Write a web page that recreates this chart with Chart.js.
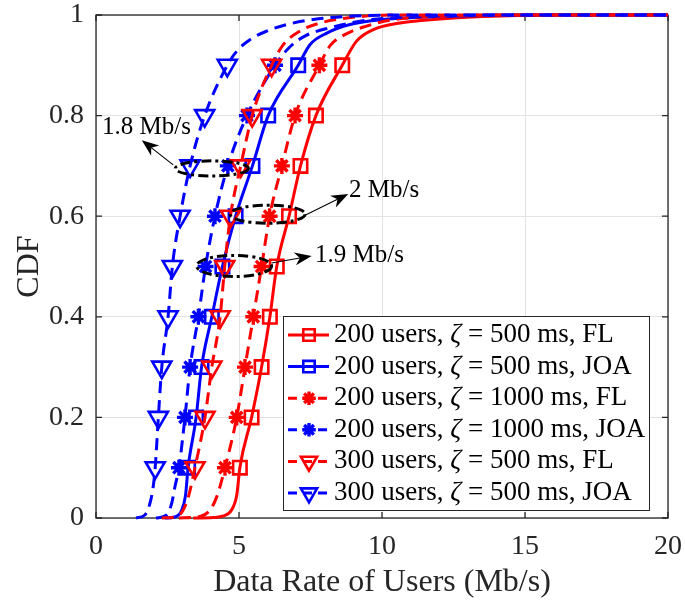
<!DOCTYPE html>
<html>
<head>
<meta charset="utf-8">
<script src="https://cdn.jsdelivr.net/npm/chart.js@4.4.0/dist/chart.umd.min.js"></script>
<style>
  html, body { margin: 0; padding: 0; background: #ffffff; }
  canvas { display: block; }
</style>
</head>
<body>
<canvas id="cdf" width="685" height="606" style="width:685px;height:606px"></canvas>
<script>
// CDF levels carrying a marker
const markerLevels = [0.1, 0.2, 0.3, 0.4, 0.5, 0.6, 0.7, 0.8, 0.9];

// Data rate (Mb/s) of each curve at the marker levels
const rateFL500   = [5.03, 5.44, 5.79, 6.08, 6.32, 6.75, 7.15, 7.69, 8.61];
const rateJOA500  = [3.22, 3.50, 3.69, 4.05, 4.42, 4.88, 5.47, 6.02, 7.07];
const rateFL1000  = [4.51, 4.92, 5.21, 5.50, 5.79, 6.07, 6.50, 6.96, 7.81];
const rateJOA1000 = [2.90, 3.11, 3.29, 3.58, 3.83, 4.16, 4.61, 5.28, 6.26];
const rateFL300   = [3.46, 3.81, 4.05, 4.34, 4.50, 4.70, 5.06, 5.46, 6.14];
const rateJOA300  = [2.07, 2.18, 2.30, 2.52, 2.67, 2.94, 3.29, 3.80, 4.59];

// Lower tails: [rate, CDF] below the first marker
const lowFL500   = [[3.4, 0], [4.1, 0.001], [4.45, 0.004], [4.74, 0.016], [4.92, 0.045]];
const lowJOA500  = [[2.4, 0], [2.76, 0.002], [3.0, 0.016], [3.13, 0.045]];
const lowFL1000  = [[2.9, 0], [3.64, 0.003], [3.99, 0.016], [4.22, 0.042]];
const lowJOA1000 = [[2.1, 0], [2.47, 0.006], [2.65, 0.03], [2.76, 0.062]];
const lowFL300   = [[2.3, 0], [2.82, 0.003], [3.05, 0.016], [3.23, 0.042]];
const lowJOA300  = [[1.4, 0], [1.71, 0.006], [1.89, 0.03], [2.0, 0.062]];

// Upper tails: [rate, CDF] above the last marker
const highFL500   = [[9.11, 0.948], [9.70, 0.971], [10.63, 0.984], [11.79, 0.991], [13.5, 0.997], [16, 1], [20, 1]];
const highJOA500  = [[7.48, 0.941], [8.07, 0.964], [8.88, 0.981], [10.05, 0.991], [12, 0.997], [15, 1], [20, 1]];
const highFL1000  = [[8.2, 0.94], [8.7, 0.961], [9.4, 0.977], [10.3, 0.99], [12, 0.997], [15, 1], [20, 1]];
const highJOA1000 = [[6.75, 0.935], [7.3, 0.958], [8.2, 0.975], [9.5, 0.99], [11.5, 0.997], [14, 1], [20, 1]];
const highFL300   = [[6.55, 0.941], [7.13, 0.968], [7.83, 0.984], [8.77, 0.994], [10.5, 1], [20, 1]];
const highJOA300  = [[4.92, 0.928], [5.38, 0.951], [5.97, 0.968], [6.67, 0.981], [7.60, 0.991], [9, 0.998], [11, 1], [20, 1]];

// Legend entries
const seriesLabels = [
  ['200 users, ', '\u03B6', ' = 500 ms, FL'],
  ['200 users, ', '\u03B6', ' = 500 ms, JOA'],
  ['200 users, ', '\u03B6', ' = 1000 ms, FL'],
  ['200 users, ', '\u03B6', ' = 1000 ms, JOA'],
  ['300 users, ', '\u03B6', ' = 500 ms, FL'],
  ['300 users, ', '\u03B6', ' = 500 ms, JOA']
];

// Axis ticks
const xTicks = [0, 5, 10, 15, 20];
const yTicks = [0, 0.2, 0.4, 0.6, 0.8, 1];

// Gap labels pointing at the circled marker groups
const gapLabels = ['1.8 Mb/s', '2 Mb/s', '1.9 Mb/s'];

const RED = '#ff0000';
const BLUE = '#0000ff';
const SERIF = '"Liberation Serif", "Times New Roman", serif';
const DASH = [12, 7];

const styles = [
  { color: RED,  dash: [],   marker: 'rect',     radius: 9.5, rotation: 0,   mw: 2.6 },
  { color: BLUE, dash: [],   marker: 'rect',     radius: 9.5, rotation: 0,   mw: 2.6 },
  { color: RED,  dash: DASH, marker: 'star',     radius: 8,   rotation: 0,   mw: 3.4 },
  { color: BLUE, dash: DASH, marker: 'star',     radius: 8,   rotation: 0,   mw: 3.4 },
  { color: RED,  dash: DASH, marker: 'triangle', radius: 11,  rotation: 180, mw: 2.6 },
  { color: BLUE, dash: DASH, marker: 'triangle', radius: 11,  rotation: 180, mw: 2.6 }
];

const rates = [rateFL500, rateJOA500, rateFL1000, rateJOA1000, rateFL300, rateJOA300];
const lows  = [lowFL500, lowJOA500, lowFL1000, lowJOA1000, lowFL300, lowJOA300];
const highs = [highFL500, highJOA500, highFL1000, highJOA1000, highFL300, highJOA300];

const toPt = p => ({ x: p[0], y: p[1] });

const datasets = [];
rates.forEach((r, i) => {
  const st = styles[i];
  const marks = markerLevels.map((lv, k) => ({ x: r[k], y: lv }));
  const curve = lows[i].map(toPt).concat(marks, highs[i].map(toPt));
  const order = (6 - i) * 2;
  datasets.push({
    type: 'line',
    data: curve,
    borderColor: st.color,
    borderWidth: 3,
    borderDash: st.dash,
    borderCapStyle: 'butt',
    cubicInterpolationMode: 'monotone',
    pointRadius: 0,
    fill: false,
    clip: false,
    order: order + 1
  });
  datasets.push({
    type: 'scatter',
    data: marks,
    showLine: false,
    pointStyle: st.marker,
    pointRadius: st.radius,
    pointRotation: st.rotation,
    pointBorderWidth: st.mw,
    pointBorderColor: st.color,
    pointBackgroundColor: 'rgba(0,0,0,0)',
    clip: false,
    order: order
  });
});

// Annotation geometry in data units
const ellipses = [
  { cx: 4.05, cy: 0.695, rx: 1.28, ry: 0.015 },
  { cx: 6.00, cy: 0.604, rx: 1.31, ry: 0.018 },
  { cx: 4.83, cy: 0.501, rx: 1.31, ry: 0.021 }
];
const arrows = [
  { x0: 2.70, y0: 0.702, x1: 1.60, y1: 0.751, tx: 0.21, ty: 0.777 },
  { x0: 7.31, y0: 0.602, x1: 8.82, y1: 0.644, tx: 8.85, ty: 0.651 },
  { x0: 6.14, y0: 0.507, x1: 7.54, y1: 0.521, tx: 7.66, ty: 0.521 }
];

function markerPath(ctx, style, x, y, r) {
  ctx.beginPath();
  if (style === 'rect') {
    const s = Math.SQRT1_2 * r;
    ctx.rect(x - s, y - s, 2 * s, 2 * s);
  } else if (style === 'star') {
    for (let a = 0; a < 4; a++) {
      const ang = a * Math.PI / 4;
      const dx = Math.cos(ang) * r, dy = Math.sin(ang) * r;
      ctx.moveTo(x - dx, y - dy);
      ctx.lineTo(x + dx, y + dy);
    }
  } else {
    // downward triangle
    ctx.moveTo(x, y + r);
    ctx.lineTo(x - 0.866 * r, y - 0.5 * r);
    ctx.lineTo(x + 0.866 * r, y - 0.5 * r);
    ctx.closePath();
  }
  ctx.stroke();
}

const framePlugin = {
  id: 'axesFrame',
  beforeDatasetsDraw(chart) {
    const { ctx, chartArea: a, scales } = chart;
    ctx.save();
    ctx.strokeStyle = '#262626';
    ctx.lineWidth = 1.3;
    ctx.strokeRect(a.left, a.top, a.right - a.left, a.bottom - a.top);
    const tl = 6;
    ctx.beginPath();
    xTicks.forEach(v => {
      const px = scales.x.getPixelForValue(v);
      ctx.moveTo(px, a.bottom); ctx.lineTo(px, a.bottom - tl);
      ctx.moveTo(px, a.top); ctx.lineTo(px, a.top + tl);
    });
    yTicks.forEach(v => {
      const py = scales.y.getPixelForValue(v);
      ctx.moveTo(a.left, py); ctx.lineTo(a.left + tl, py);
      ctx.moveTo(a.right, py); ctx.lineTo(a.right - tl, py);
    });
    ctx.stroke();
    ctx.restore();
  }
};

const notePlugin = {
  id: 'gapNotes',
  afterDatasetsDraw(chart) {
    const { ctx, scales } = chart;
    const X = v => scales.x.getPixelForValue(v);
    const Y = v => scales.y.getPixelForValue(v);
    ctx.save();
    // dash-dot ellipses
    ctx.strokeStyle = '#000000';
    ctx.lineWidth = 3;
    ctx.setLineDash([10, 4, 3, 4]);
    ellipses.forEach(e => {
      const cx = X(e.cx), cy = Y(e.cy);
      const rx = X(e.cx + e.rx) - cx, ry = cy - Y(e.cy + e.ry);
      ctx.beginPath();
      ctx.ellipse(cx, cy, rx, ry, 0, 0, Math.PI * 2);
      ctx.stroke();
    });
    ctx.setLineDash([]);
    // arrows and their labels
    ctx.fillStyle = '#000000';
    ctx.lineWidth = 1.1;
    ctx.font = '25px ' + SERIF;
    ctx.textBaseline = 'middle';
    ctx.textAlign = 'left';
    arrows.forEach((ar, i) => {
      const x0 = X(ar.x0), y0 = Y(ar.y0), x1 = X(ar.x1), y1 = Y(ar.y1);
      const ang = Math.atan2(y1 - y0, x1 - x0);
      const L = 17, W = 6.5, N = 12;
      const c = Math.cos(ang), s = Math.sin(ang);
      ctx.beginPath();
      ctx.moveTo(x0, y0);
      ctx.lineTo(x1 - c * N, y1 - s * N);
      ctx.stroke();
      ctx.beginPath();
      ctx.moveTo(x1, y1);
      ctx.lineTo(x1 - c * L - s * W, y1 - s * L + c * W);
      ctx.lineTo(x1 - c * N, y1 - s * N);
      ctx.lineTo(x1 - c * L + s * W, y1 - s * L - c * W);
      ctx.closePath();
      ctx.fill();
      ctx.fillText(gapLabels[i], X(ar.tx), Y(ar.ty));
    });
    ctx.restore();
  }
};

const legendPlugin = {
  id: 'insetLegend',
  afterDraw(chart) {
    const { ctx, chartArea: a } = chart;
    const w = 366, h = 194;
    const left = a.right - 19 - w, top = a.bottom - 8 - h;
    ctx.save();
    ctx.fillStyle = '#ffffff';
    ctx.fillRect(left, top, w, h);
    ctx.strokeStyle = '#262626';
    ctx.lineWidth = 1;
    ctx.strokeRect(left + 0.5, top + 0.5, w, h);
    const rowH = 31.6;
    seriesLabels.forEach((parts, i) => {
      const st = styles[i];
      const y = top + 19 + i * rowH;
      ctx.strokeStyle = st.color;
      ctx.lineWidth = 3;
      ctx.setLineDash(st.dash.length ? [9, 6] : []);
      ctx.beginPath();
      ctx.moveTo(left + 5, y);
      ctx.lineTo(left + 46, y);
      ctx.stroke();
      ctx.setLineDash([]);
      ctx.lineWidth = st.mw;
      markerPath(ctx, st.marker, left + 26, y, st.radius * 0.85);
      ctx.fillStyle = '#000000';
      ctx.textBaseline = 'middle';
      ctx.textAlign = 'left';
      let tx = left + 51;
      parts.forEach((p, k) => {
        ctx.font = (k === 1 ? 'italic ' : '') + '27px ' + SERIF;
        ctx.fillText(p, tx, y);
        tx += ctx.measureText(p).width;
      });
    });
    ctx.restore();
  }
};

new Chart(document.getElementById('cdf'), {
  type: 'scatter',
  data: { datasets },
  options: {
    responsive: false,
    animation: false,
    devicePixelRatio: 1,
    layout: { padding: { left: 0, right: 17, top: 15, bottom: 0 } },
    scales: {
      x: {
        type: 'linear',
        min: 0, max: 20,
        afterBuildTicks: s => { s.ticks = xTicks.map(v => ({ value: v })); },
        afterFit: s => { s.height = 88; s.paddingLeft = 0; s.paddingRight = 0; },
        ticks: { color: '#262626', font: { family: SERIF, size: 28 }, padding: 12, maxRotation: 0,
                 callback: v => String(v) },
        grid: { color: '#e3e3e3', lineWidth: 1, drawTicks: false },
        border: { display: false },
        title: { display: true, text: 'Data Rate of Users (Mb/s)', color: '#262626',
                 font: { family: SERIF, size: 32 }, padding: { top: 0, bottom: 4 } }
      },
      y: {
        type: 'linear',
        min: 0, max: 1,
        afterBuildTicks: s => { s.ticks = yTicks.map(v => ({ value: v })); },
        afterFit: s => { s.width = 96; s.paddingTop = 0; s.paddingBottom = 0; },
        ticks: { color: '#262626', font: { family: SERIF, size: 28 }, padding: 12,
                 callback: v => String(Math.round(v * 10) / 10) },
        grid: { color: '#e3e3e3', lineWidth: 1, drawTicks: false },
        border: { display: false },
        title: { display: true, text: 'CDF', color: '#262626',
                 font: { family: SERIF, size: 32 }, padding: { top: 10, bottom: 0 } }
      }
    },
    plugins: {
      legend: { display: false },
      tooltip: { enabled: false }
    }
  },
  plugins: [framePlugin, notePlugin, legendPlugin]
});
</script>
</body>
</html>
